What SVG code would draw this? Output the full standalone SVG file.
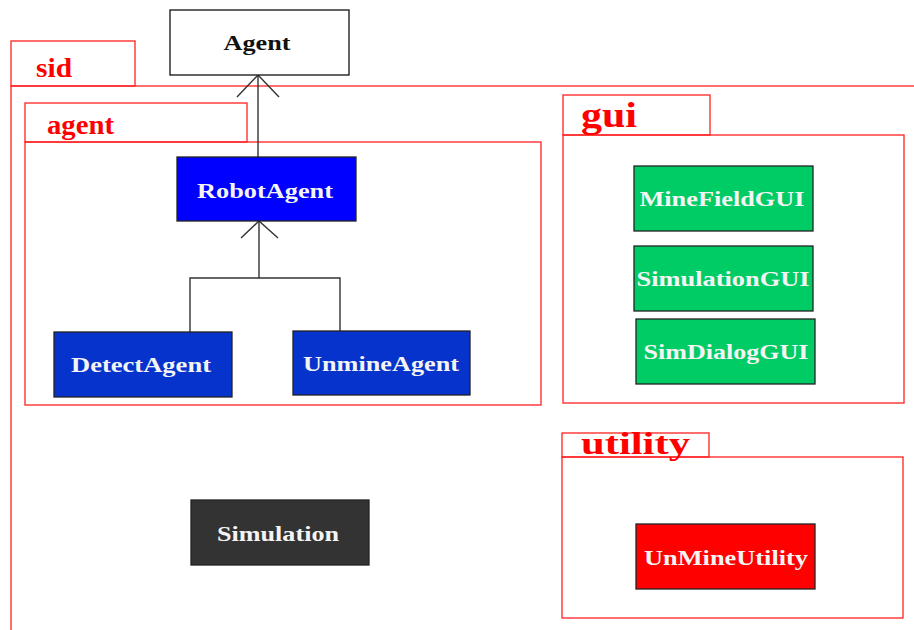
<svg xmlns="http://www.w3.org/2000/svg" width="914" height="630" viewBox="0 0 914 630">
<style>
.pkg{fill:none;stroke:#ff2020;stroke-width:1.3}
.pl{font-family:"Liberation Serif",serif;font-weight:bold;fill:#ff0000}
.nd{stroke:#222;stroke-width:1.3}
.nl{font-family:"Liberation Serif",serif;font-weight:bold;font-size:22px;fill:#f4f4f4;text-anchor:middle}
.cn{fill:none;stroke:#333;stroke-width:1.4}
</style>
<rect width="914" height="630" fill="#fff"/>
<g id="pkg-sid">
<rect class="pkg" x="11" y="41" width="124" height="45"/>
<rect class="pkg" x="11" y="86" width="1000" height="600"/>
<text class="pl" x="36" y="77" font-size="27" textLength="36" lengthAdjust="spacingAndGlyphs">sid</text>
</g>
<g id="pkg-agent">
<rect class="pkg" x="25" y="103" width="222" height="39"/>
<rect class="pkg" x="25" y="142" width="516" height="263"/>
<text class="pl" x="47" y="134" font-size="27" textLength="67" lengthAdjust="spacingAndGlyphs">agent</text>
</g>
<g id="pkg-gui">
<rect class="pkg" x="563" y="95" width="147" height="40"/>
<rect class="pkg" x="563" y="135" width="341" height="268"/>
<text class="pl" x="581" y="127" font-size="36" textLength="56" lengthAdjust="spacingAndGlyphs">gui</text>
</g>
<g id="pkg-utility">
<rect class="pkg" x="562" y="433" width="147" height="24"/>
<rect class="pkg" x="562" y="457" width="341" height="161"/>
<text class="pl" x="581" y="454" font-size="32" textLength="109" lengthAdjust="spacingAndGlyphs">utility</text>
</g>
<g id="connectors">
<line class="cn" x1="258" y1="157" x2="258" y2="75"/>
<polyline class="cn" points="237,97 258,75 279,97"/>
<polyline class="cn" points="190,332 190,278 340,278 340,331"/>
<line class="cn" x1="259" y1="278" x2="259" y2="221"/>
<polyline class="cn" points="241,238 259,221 278,238"/>
</g>
<g id="node-Agent">
<rect x="170" y="10" width="179" height="65" fill="#fff" stroke="#111" stroke-width="1.3"/>
<text x="257" y="50" font-family="Liberation Serif,serif" font-weight="bold" font-size="22" fill="#111" text-anchor="middle" textLength="67" lengthAdjust="spacingAndGlyphs">Agent</text>
</g>
<g id="node-RobotAgent">
<rect class="nd" x="177" y="157" width="179" height="64" fill="#0000ff"/>
<text class="nl" x="265" y="198" textLength="136" lengthAdjust="spacingAndGlyphs">RobotAgent</text>
</g>
<g id="node-DetectAgent">
<rect class="nd" x="54" y="332" width="178" height="65" fill="#0533cc"/>
<text class="nl" x="141" y="372" textLength="140" lengthAdjust="spacingAndGlyphs">DetectAgent</text>
</g>
<g id="node-UnmineAgent">
<rect class="nd" x="293" y="331" width="177" height="64" fill="#0533cc"/>
<text class="nl" x="381" y="371" textLength="156" lengthAdjust="spacingAndGlyphs">UnmineAgent</text>
</g>
<g id="node-Simulation">
<rect class="nd" x="191" y="500" width="178" height="65" fill="#333333"/>
<text class="nl" x="278" y="541" textLength="122" lengthAdjust="spacingAndGlyphs">Simulation</text>
</g>
<g id="node-MineFieldGUI">
<rect class="nd" x="634" y="166" width="179" height="65" fill="#00cc66"/>
<text class="nl" x="722" y="206" textLength="165" lengthAdjust="spacingAndGlyphs">MineFieldGUI</text>
</g>
<g id="node-SimulationGUI">
<rect class="nd" x="634" y="246" width="179" height="65" fill="#00cc66"/>
<text class="nl" x="723" y="286" textLength="173" lengthAdjust="spacingAndGlyphs">SimulationGUI</text>
</g>
<g id="node-SimDialogGUI">
<rect class="nd" x="636" y="319" width="179" height="65" fill="#00cc66"/>
<text class="nl" x="726" y="359" textLength="165" lengthAdjust="spacingAndGlyphs">SimDialogGUI</text>
</g>
<g id="node-UnMineUtility">
<rect class="nd" x="636" y="524" width="179" height="65" fill="#ff0000"/>
<text class="nl" x="726" y="565" textLength="164" lengthAdjust="spacingAndGlyphs">UnMineUtility</text>
</g>
</svg>
